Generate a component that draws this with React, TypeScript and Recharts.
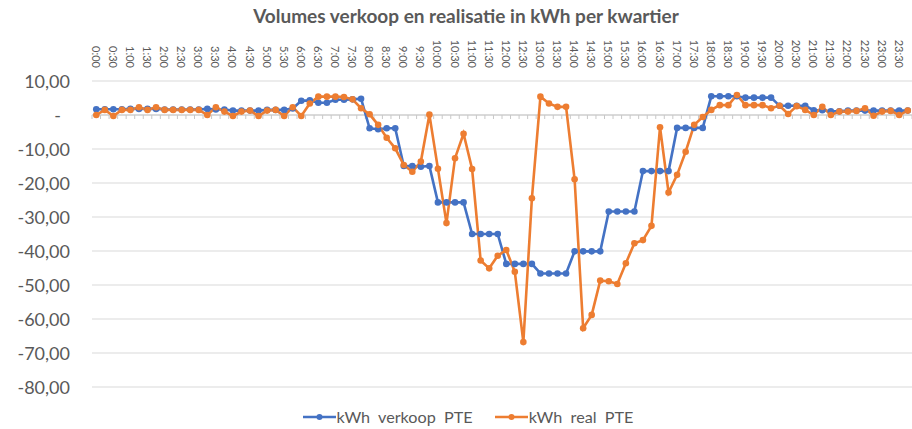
import React from 'react';
import { LineChart, Line, XAxis, YAxis, CartesianGrid, ReferenceLine, Legend } from 'recharts';

const quarters: string[] = Array.from({ length: 96 }, (_, i) => `${Math.floor(i / 4)}:${String((i % 4) * 15).padStart(2, '0')}`);

const verkoop: number[] = [
  1.7, 1.7, 1.7, 1.7, 1.8, 1.8, 1.8, 1.8, 1.6, 1.6, 1.6, 1.6,
  1.6, 1.8, 1.6, 1.6, 1.3, 1.3, 1.3, 1.3, 1.5, 1.5, 1.5, 1.9,
  4.2, 4.3, 3.6, 3.6, 4.5, 4.5, 4.6, 4.8, -3.9, -4.2, -3.9, -3.9,
  -15.0, -15.0, -15.2, -15.0, -25.7, -25.7, -25.7, -25.7, -35.0, -35.0, -35.0, -35.0,
  -43.8, -43.8, -43.8, -43.8, -46.6, -46.6, -46.6, -46.6, -40.1, -40.1, -40.1, -40.1,
  -28.4, -28.4, -28.4, -28.4, -16.5, -16.5, -16.5, -16.5, -3.8, -3.8, -3.8, -3.8,
  5.5, 5.5, 5.5, 5.5, 5.1, 5.1, 5.1, 5.1, 2.7, 2.7, 2.7, 2.7,
  1.4, 1.4, 1.1, 1.1, 1.3, 1.3, 1.3, 1.3, 1.3, 1.3, 1.3, 1.3,
];

const real: number[] = [
  0.0, 1.5, -0.3, 1.5, 1.5, 2.3, 1.5, 2.3, 1.5, 1.5, 1.5, 1.5,
  1.5, 0.0, 2.3, 1.0, -0.3, 1.0, 1.3, -0.3, 1.3, 1.5, -0.3, 2.3,
  -0.3, 3.4, 5.4, 5.4, 5.4, 5.3, 4.6, 2.0, 0.2, -2.9, -6.7, -9.8,
  -14.7, -16.7, -13.7, 0.1, -15.8, -31.8, -12.7, -5.5, -15.9, -42.8, -45.1, -41.4,
  -39.7, -46.1, -66.8, -24.5, 5.4, 3.4, 2.4, 2.4, -18.9, -62.7, -58.8, -48.7,
  -48.9, -49.7, -43.6, -37.7, -36.8, -32.6, -3.6, -22.8, -17.6, -10.8, -2.9, -0.6,
  1.5, 2.9, 2.9, 5.9, 2.9, 2.9, 2.9, 2.0, 2.7, 0.3, 2.6, 1.5,
  0.0, 2.4, 0.0, 1.0, 1.0, 1.2, 2.0, -0.2, 1.0, 1.2, 0.0, 1.3,
];

const yTicks: number[] = [-80, -70, -60, -50, -40, -30, -20, -10, 0, 10];

const seriesNames = { verkoop: 'kWh  verkoop  PTE', real: 'kWh  real  PTE' };
const BLUE = '#4472C4';
const ORANGE = '#ED7D31';
const TEXT = '#595959';
const FONT = 'Lato, "Liberation Sans", sans-serif';

const data = quarters.map((t, i) => ({ t, verkoop: verkoop[i], real: real[i] }));

const fmt = (v: number) => (v === 0 ? '-' : v.toFixed(2).replace('.', ','));

const XTick = (props: any) => {
  const { x, y, payload } = props;
  return (
    <text
      x={x}
      y={y}
      transform={`rotate(90, ${x}, ${y})`}
      textAnchor="end"
      dominantBaseline="central"
      fill={TEXT}
      fontSize={11}
      fontFamily={FONT}
    >
      {payload.value}
    </text>
  );
};

const YTick = (props: any) => {
  const { x, y, payload } = props;
  const zero = payload.value === 0;
  return (
    <text
      x={zero ? x - 9 : x}
      y={y}
      textAnchor="end"
      dominantBaseline="central"
      fill={TEXT}
      fontSize={18}
      fontFamily={FONT}
    >
      {fmt(payload.value)}
    </text>
  );
};

const AxisLineWithTicks = (props: any) => {
  const { x1, x2, y1 } = props;
  if (x1 == null || x2 == null || y1 == null) return null;
  const n = quarters.length;
  const step = (x2 - x1) / n;
  const ticks = [];
  for (let k = 0; k <= n; k++) {
    const xx = x1 + k * step;
    ticks.push(<line key={k} x1={xx} x2={xx} y1={y1} y2={y1 + 4} stroke="#c8c8c8" strokeWidth={1} />);
  }
  return (
    <g>
      <line x1={x1} x2={x2} y1={y1} y2={y1} stroke="#c8c8c8" strokeWidth={1} />
      {ticks}
    </g>
  );
};

const LegendContent = () => {
  const item = (color: string, label: string, mr: number) => (
    <div style={{ display: 'flex', alignItems: 'center', marginRight: mr }}>
      <svg width={33} height={10} style={{ marginRight: 1 }}>
        <line x1={0} x2={33} y1={5} y2={5} stroke={color} strokeWidth={2.5} />
        <circle cx={16.5} cy={5} r={3} fill={color} />
      </svg>
      <span style={{ color: TEXT, fontSize: 16.2, fontFamily: FONT, whiteSpace: 'pre', lineHeight: '18px' }}>{label}</span>
    </div>
  );
  return (
    <div style={{ display: 'flex', justifyContent: 'center', alignItems: 'center', height: 18, paddingLeft: 24 }}>
      {item(BLUE, seriesNames.verkoop, 22)}
      {item(ORANGE, seriesNames.real, 0)}
    </div>
  );
};

export default function App() {
  return (
    <div style={{ position: 'absolute', left: 0, top: 0, width: 912, height: 429, background: '#fff' }}>
      <div
        style={{
          position: 'absolute',
          left: 0,
          top: 4,
          width: 932,
          textAlign: 'center',
          fontFamily: FONT,
          fontWeight: 700,
          fontSize: 19,
          lineHeight: '24px',
          color: TEXT,
          zIndex: 2,
        }}
      >
        Volumes verkoop en realisatie in kWh per kwartier
      </div>
      <LineChart width={912} height={429} data={data} margin={{ top: 0, right: 0, bottom: 24, left: 0 }}>
        <CartesianGrid vertical={false} stroke="#d9d9d9" strokeWidth={1} />
        <XAxis
          dataKey="t"
          orientation="top"
          height={81}
          interval={1}
          axisLine={false}
          tickLine={false}
          tickSize={0}
          tickMargin={13}
          padding={{ left: 4.27, right: 4.27 }}
          tick={<XTick />}
        />
        <YAxis
          domain={[-80, 10]}
          ticks={yTicks}
          width={92}
          axisLine={false}
          tickLine={false}
          tickSize={0}
          tickMargin={22}
          tick={<YTick />}
          interval={0}
        />
        <ReferenceLine y={0} shape={<AxisLineWithTicks />} ifOverflow="visible" />
        <Legend
          verticalAlign="bottom"
          content={<LegendContent />}
          wrapperStyle={{ top: 408, left: 0, width: 912, height: 18 }}
        />
        <Line
          type="linear"
          dataKey="verkoop"
          stroke={BLUE}
          strokeWidth={2.6}
          dot={{ r: 3.3, fill: BLUE, stroke: BLUE, strokeWidth: 0 }}
          activeDot={false}
          isAnimationActive={false}
        />
        <Line
          type="linear"
          dataKey="real"
          stroke={ORANGE}
          strokeWidth={2.6}
          dot={{ r: 3.3, fill: ORANGE, stroke: ORANGE, strokeWidth: 0 }}
          activeDot={false}
          isAnimationActive={false}
        />
      </LineChart>
    </div>
  );
}
